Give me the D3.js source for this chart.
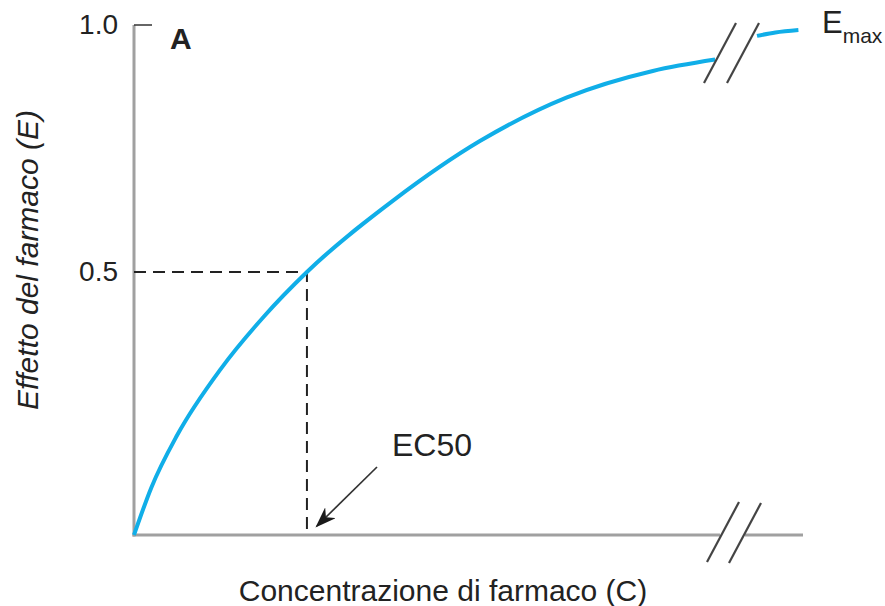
<!DOCTYPE html>
<html>
<head>
<meta charset="utf-8">
<script src="https://cdn.jsdelivr.net/npm/d3@7"></script>
<style>
  body { margin: 0; background: #fff; }
  svg { display: block; font-family: "Liberation Sans", Arial, sans-serif; }
</style>
</head>
<body>
<svg width="885" height="606"></svg>
<script>
/* global d3 */

// concentration in EC50 units, effect as fraction of Emax
var curveBefore = [
  { c: 0, e: 0 },
  { c: 0.1, e: 0.09 },
  { c: 0.25, e: 0.19 },
  { c: 0.5, e: 0.315 },
  { c: 0.75, e: 0.415 },
  { c: 1.0, e: 0.5 },
  { c: 1.5, e: 0.645 },
  { c: 2.0, e: 0.765 },
  { c: 2.5, e: 0.853 },
  { c: 3.0, e: 0.907 },
  { c: 3.36, e: 0.93 }
];

var curveAfter = [
  { c: 10, e: 0.978 },
  { c: 14, e: 0.985 },
  { c: 19, e: 0.99 }
];

var ec50 = { c: 1.0, e: 0.5 };
var yTicks = [ 0.5, 1.0 ];
var yTickLabels = [ "0.5", "1.0" ];
var breakAt = [ 3.4, 10 ];

var svg = d3.select( "svg" );

var xScale = d3.scaleLinear()
  .domain( [ 0, 3.4, 10, 20 ] )
  .range( [ 134, 722, 757, 803 ] );

var yScale = d3.scaleLinear()
  .domain( [ 0, 0.5, 1 ] )
  .range( [ 535, 272, 25 ] );

var blue = "#10aee8";

// axes lines
svg.append( "line" )
  .attr( "x1", xScale( 0 ) ).attr( "x2", xScale( 0 ) )
  .attr( "y1", yScale( 1 ) ).attr( "y2", yScale( 0 ) + 1.5 )
  .attr( "stroke", "#a0a0a0" ).attr( "stroke-width", 3 );

svg.append( "line" )
  .attr( "x1", xScale( 0 ) - 1.5 ).attr( "x2", 720 )
  .attr( "y1", yScale( 0 ) ).attr( "y2", yScale( 0 ) )
  .attr( "stroke", "#a0a0a0" ).attr( "stroke-width", 3 );

svg.append( "line" )
  .attr( "x1", 745 ).attr( "x2", xScale( 20 ) )
  .attr( "y1", yScale( 0 ) ).attr( "y2", yScale( 0 ) )
  .attr( "stroke", "#a0a0a0" ).attr( "stroke-width", 3 );

// top tick at 1.0
svg.append( "line" )
  .attr( "x1", xScale( 0 ) ).attr( "x2", xScale( 0 ) + 18 )
  .attr( "y1", yScale( 1 ) ).attr( "y2", yScale( 1 ) )
  .attr( "stroke", "#333" ).attr( "stroke-width", 1.5 );

// tick labels
var yAxis = d3.axisLeft( yScale )
  .tickValues( yTicks )
  .tickFormat( ( d, i ) => yTickLabels[ i ] )
  .tickSize( 0 )
  .tickPadding( 16 );

svg.append( "g" )
  .attr( "transform", "translate(" + xScale( 0 ) + ",0)" )
  .call( yAxis )
  .call( g => g.select( ".domain" ).remove() )
  .selectAll( "text" )
    .attr( "font-family", "Liberation Sans, Arial, sans-serif" )
    .attr( "font-size", 28 )
    .attr( "fill", "#222" );

// dashed guides to EC50
svg.append( "path" )
  .attr( "d", "M" + xScale( 0 ) + "," + yScale( ec50.e ) +
    "H" + xScale( ec50.c ) + "V" + yScale( 0 ) )
  .attr( "fill", "none" )
  .attr( "stroke", "#222" )
  .attr( "stroke-width", 2 )
  .attr( "stroke-dasharray", "12,7" );

// curve
var line = d3.line()
  .x( d => xScale( d.c ) )
  .y( d => yScale( d.e ) )
  .curve( d3.curveMonotoneX );

[ curveBefore, curveAfter ].forEach( seg => {
  svg.append( "path" )
    .datum( seg )
    .attr( "d", line )
    .attr( "fill", "none" )
    .attr( "stroke", blue )
    .attr( "stroke-width", 4 )
    .attr( "stroke-linecap", "butt" );
} );

// axis break marks
var breakMarks = [
  { x: xScale( breakAt[ 0 ] ) - 2, y: 53 },
  { x: xScale( breakAt[ 0 ] ) + 21, y: 53 },
  { x: xScale( breakAt[ 0 ] ) + 1, y: 532 },
  { x: xScale( breakAt[ 0 ] ) + 23, y: 533 }
];

svg.selectAll( "line.breakMark" )
  .data( breakMarks )
  .enter().append( "line" )
    .attr( "class", "breakMark" )
    .attr( "x1", d => d.x - 16 ).attr( "y1", d => d.y + 30 )
    .attr( "x2", d => d.x + 16 ).attr( "y2", d => d.y - 30 )
    .attr( "stroke", "#444" )
    .attr( "stroke-width", 2.2 );

// arrow to EC50
svg.append( "defs" ).append( "marker" )
  .attr( "id", "arrowHead" )
  .attr( "viewBox", "0 0 10 10" )
  .attr( "refX", 9 ).attr( "refY", 5 )
  .attr( "markerWidth", 21 ).attr( "markerHeight", 15 )
  .attr( "markerUnits", "userSpaceOnUse" )
  .attr( "orient", "auto" )
  .attr( "preserveAspectRatio", "none" )
  .append( "path" )
    .attr( "d", "M0,0 L10,5 L0,10 L3,5 Z" )
    .attr( "fill", "#1a1a1a" );

svg.append( "line" )
  .attr( "x1", 377 ).attr( "y1", 467 )
  .attr( "x2", xScale( ec50.c ) + 10 ).attr( "y2", yScale( 0 ) - 9 )
  .attr( "stroke", "#333" )
  .attr( "stroke-width", 1.7 )
  .attr( "marker-end", "url(#arrowHead)" );

svg.append( "text" )
  .attr( "x", 392 ).attr( "y", 456 )
  .attr( "font-size", 32 )
  .attr( "fill", "#222" )
  .text( "EC50" );

// panel letter
svg.append( "text" )
  .attr( "x", 170 ).attr( "y", 49 )
  .attr( "font-size", 30 )
  .attr( "font-weight", "bold" )
  .attr( "fill", "#222" )
  .text( "A" );

// Emax label
var emax = svg.append( "text" )
  .attr( "x", 822 ).attr( "y", 33 )
  .attr( "font-size", 31 )
  .attr( "fill", "#222" );
emax.append( "tspan" ).text( "E" );
emax.append( "tspan" )
  .attr( "font-size", 21 )
  .attr( "dy", 10 )
  .text( "max" );

// axis titles
svg.append( "text" )
  .attr( "transform", "translate(38,260) rotate(-90)" )
  .attr( "text-anchor", "middle" )
  .attr( "font-size", 30 )
  .attr( "font-style", "italic" )
  .attr( "fill", "#222" )
  .text( "Effetto del farmaco (E)" );

svg.append( "text" )
  .attr( "x", 443 ).attr( "y", 601 )
  .attr( "text-anchor", "middle" )
  .attr( "font-size", 30 )
  .attr( "fill", "#222" )
  .text( "Concentrazione di farmaco (C)" );
</script>
</body>
</html>
